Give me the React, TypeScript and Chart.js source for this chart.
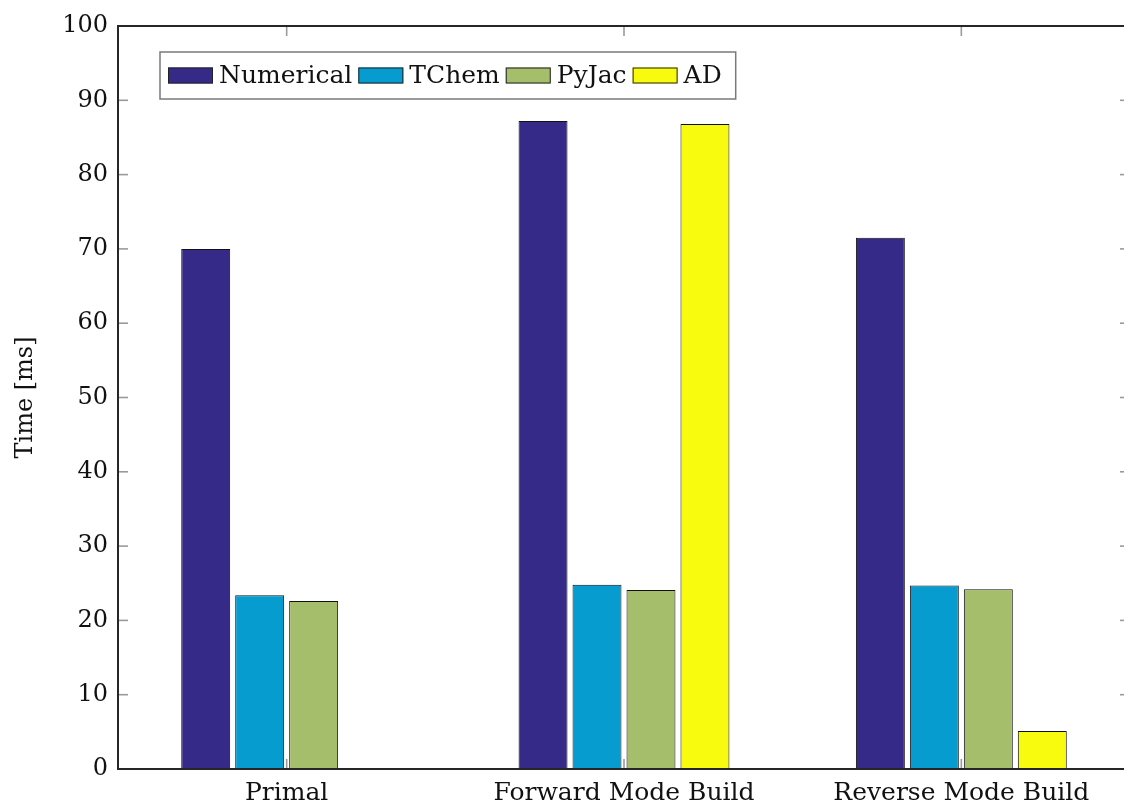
import React, { useEffect, useRef } from "react";
import { Chart, registerables } from "chart.js";

Chart.register(...registerables);

const categories = ["Primal", "Forward Mode Build", "Reverse Mode Build"];
const seriesLabels = ["Numerical", "TChem", "PyJac", "AD"];
const numerical = [70.0, 87.2, 71.5];
const tchem = [23.4, 24.8, 24.7];
const pyjac = [22.6, 24.1, 24.2];
const ad = [null, 86.8, 5.1];
const seriesColors = ["#352a87", "#079ccf", "#a5be6b", "#f9fb0e"];
const yMin = 0;
const yMax = 100;
const yStep = 10;
const yTitle = "Time [ms]";

const FONT = '"DejaVu Serif", "Liberation Serif", serif';
const FONT_SIZE = 24;
const LABEL_SIZE = 25;
const TEXT_COLOR = "#111111";

const framePlugin = {
  id: "pgfFrame",
  beforeDatasetsDraw(chart: any) {
    const { ctx, chartArea: a, scales } = chart;
    const L = 10;
    ctx.save();
    ctx.strokeStyle = "#9a9a9a";
    ctx.lineWidth = 1.6;
    const seg = (x1: number, y1: number, x2: number, y2: number) => {
      ctx.beginPath();
      ctx.moveTo(x1, y1);
      ctx.lineTo(x2, y2);
      ctx.stroke();
    };
    scales.y.ticks.forEach((t: any) => {
      const y = scales.y.getPixelForValue(t.value);
      seg(a.left, y, a.left + L, y);
      seg(a.right, y, a.right - L, y);
    });
    scales.x.ticks.forEach((_t: any, i: number) => {
      const x = scales.x.getPixelForTick(i);
      seg(x, a.bottom, x, a.bottom - L);
      seg(x, a.top, x, a.top + L);
    });
    ctx.restore();
  },
  afterDatasetsDraw(chart: any) {
    const { ctx, chartArea: a } = chart;
    ctx.save();
    ctx.strokeStyle = "#262626";
    ctx.lineWidth = 2;
    ctx.strokeRect(a.left, a.top, a.right - a.left, a.bottom - a.top);
    ctx.restore();
  },
  afterDraw(chart: any) {
    const { ctx, chartArea: a } = chart;
    const datasets = chart.data.datasets;
    ctx.save();
    ctx.font = `${LABEL_SIZE}px ${FONT}`;
    const boxLeft = a.left + 42;
    const boxTop = a.top + 26;
    const boxH = 47;
    const sw = 45;
    const sh = 16;
    const padL = 8;
    const gap = 6;
    let x = boxLeft + padL;
    const items: any[] = [];
    datasets.forEach((ds: any) => {
      const tw = ctx.measureText(ds.label).width;
      items.push({ x, label: ds.label, color: ds.backgroundColor, tw });
      x += sw + gap + tw + gap;
    });
    const boxRight = x - gap + 14;
    ctx.fillStyle = "#ffffff";
    ctx.fillRect(boxLeft, boxTop, boxRight - boxLeft, boxH);
    ctx.strokeStyle = "#7a7a7a";
    ctx.lineWidth = 1.5;
    ctx.strokeRect(boxLeft, boxTop, boxRight - boxLeft, boxH);
    const cy = boxTop + boxH / 2;
    items.forEach((it) => {
      ctx.fillStyle = it.color;
      ctx.fillRect(it.x, cy - sh / 2, sw, sh);
      ctx.strokeStyle = "#222";
      ctx.lineWidth = 1;
      ctx.strokeRect(it.x + 0.5, cy - sh / 2 + 0.5, sw - 1, sh - 1);
      ctx.fillStyle = TEXT_COLOR;
      ctx.textBaseline = "middle";
      ctx.textAlign = "left";
      ctx.fillText(it.label, it.x + sw + gap, cy + 1);
    });
    ctx.restore();
  },
};

export default function App() {
  const canvasRef = useRef<HTMLCanvasElement | null>(null);

  useEffect(() => {
    if (!canvasRef.current) return;
    const seriesData = [numerical, tchem, pyjac, ad];
    const chart = new Chart(canvasRef.current, {
      type: "bar",
      data: {
        labels: categories,
        datasets: seriesLabels.map((label, i) => ({
          label,
          data: seriesData[i] as any,
          backgroundColor: seriesColors[i],
          borderColor: "#111111",
          borderWidth: 1,
          categoryPercentage: 0.64,
          barPercentage: 0.907,
        })),
      },
      options: {
        animation: false,
        responsive: false,
        layout: { padding: { left: 0, top: 18, right: 18, bottom: 0 } },
        plugins: {
          legend: { display: false },
          tooltip: { enabled: false },
        },
        scales: {
          x: {
            type: "category",
            offset: true,
            grid: { display: false, drawTicks: false },
            border: { display: false },
            ticks: {
              font: { family: FONT, size: LABEL_SIZE },
              color: TEXT_COLOR,
              padding: 9,
              maxRotation: 0,
              autoSkip: false,
            },
            afterFit(scale: any) {
              scale.height = 38;
              scale.paddingLeft = 0;
              scale.paddingRight = 0;
            },
          },
          y: {
            min: yMin,
            max: yMax,
            grid: { display: false, drawTicks: false },
            border: { display: false },
            ticks: {
              stepSize: yStep,
              font: { family: FONT, size: FONT_SIZE },
              color: TEXT_COLOR,
              padding: 10,
            },
            title: {
              display: true,
              text: yTitle,
              font: { family: FONT, size: FONT_SIZE },
              color: TEXT_COLOR,
              padding: { top: 3, bottom: 0 },
            },
            afterFit(scale: any) {
              scale.width = 110;
              scale.paddingTop = 0;
              scale.paddingBottom = 0;
            },
          },
        },
      },
      plugins: [framePlugin],
    });
    return () => chart.destroy();
  }, []);

  return (
    <div
      style={{
        position: "fixed",
        left: 8,
        top: 8,
        width: 1116,
        height: 799,
        overflow: "hidden",
      }}
    >
      <canvas ref={canvasRef} width={1140} height={799} style={{ display: "block" }} />
    </div>
  );
}
